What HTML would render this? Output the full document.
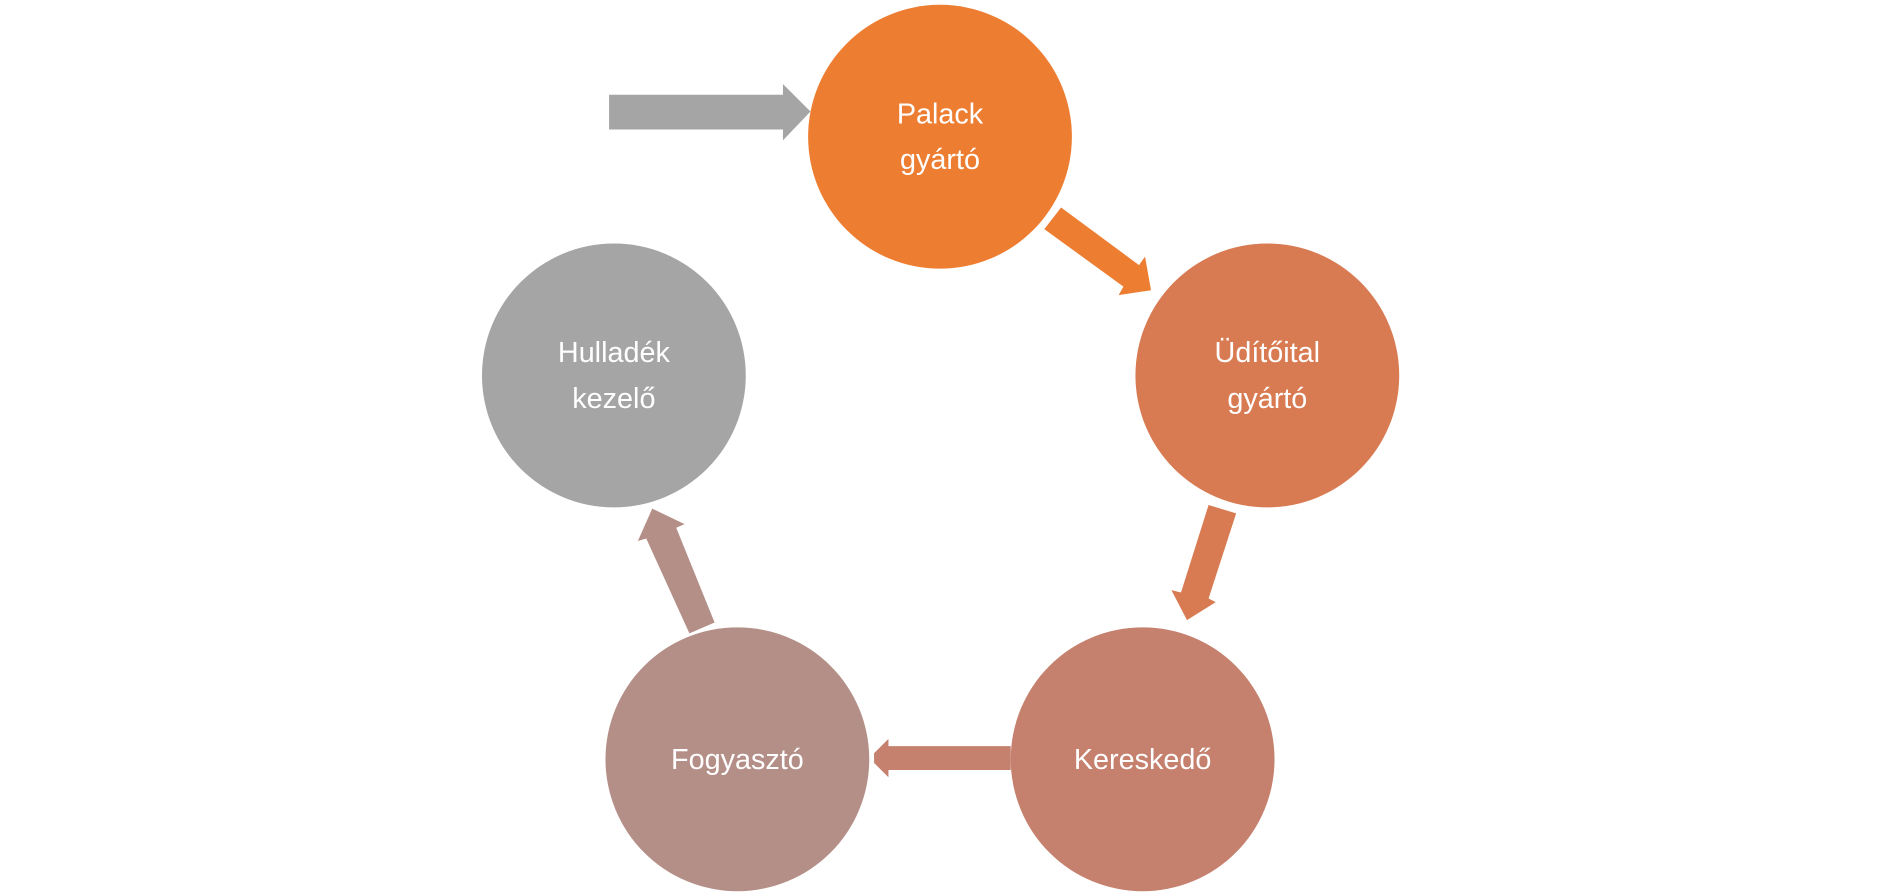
<!DOCTYPE html>
<html><head><meta charset="utf-8"><style>
html,body{margin:0;padding:0;background:#fff;}
svg{display:block}
text{font-family:"Liberation Sans","DejaVu Sans",sans-serif;font-size:24px;fill:#fff;text-anchor:middle;}
</style></head><body>
<svg width="1880" height="896" viewBox="0 0 1568 747" preserveAspectRatio="none" xmlns="http://www.w3.org/2000/svg">
<polygon points="508,79 653,79 653,70 676,93 653,117 653,108 508,108" fill="#A5A5A5"/>
<polygon points="871,191 885,173 950,221 955,214 960,242 933,246 937,239" fill="#ED7D31"/>
<polygon points="1008,421 1031,428 1008,499 1014,502 990,517 977,492 985,494" fill="#D97B52"/>
<polygon points="843,622 741,622 741,616 729,628 729,636 741,648 741,642 843,642" fill="#C5806E"/>
<polygon points="575,528 596,519 564,440 571,437 544,424 532,451 539,449" fill="#B48F88"/>
<circle cx="784" cy="114" r="110" fill="#ED7D31"/>
<circle cx="1057" cy="313" r="110" fill="#D97B52"/>
<circle cx="953" cy="633" r="110" fill="#C5806E"/>
<circle cx="615" cy="633" r="110" fill="#B48F88"/>
<circle cx="512" cy="313" r="110" fill="#A5A5A5"/>
<text x="784" y="103">Palack</text>
<text x="784" y="141">gyártó</text>
<text x="1057" y="302">Üdítőital</text>
<text x="1057" y="340">gyártó</text>
<text x="953" y="641">Kereskedő</text>
<text x="615" y="641">Fogyasztó</text>
<text x="512" y="302">Hulladék</text>
<text x="512" y="340">kezelő</text>
</svg>
</body></html>
